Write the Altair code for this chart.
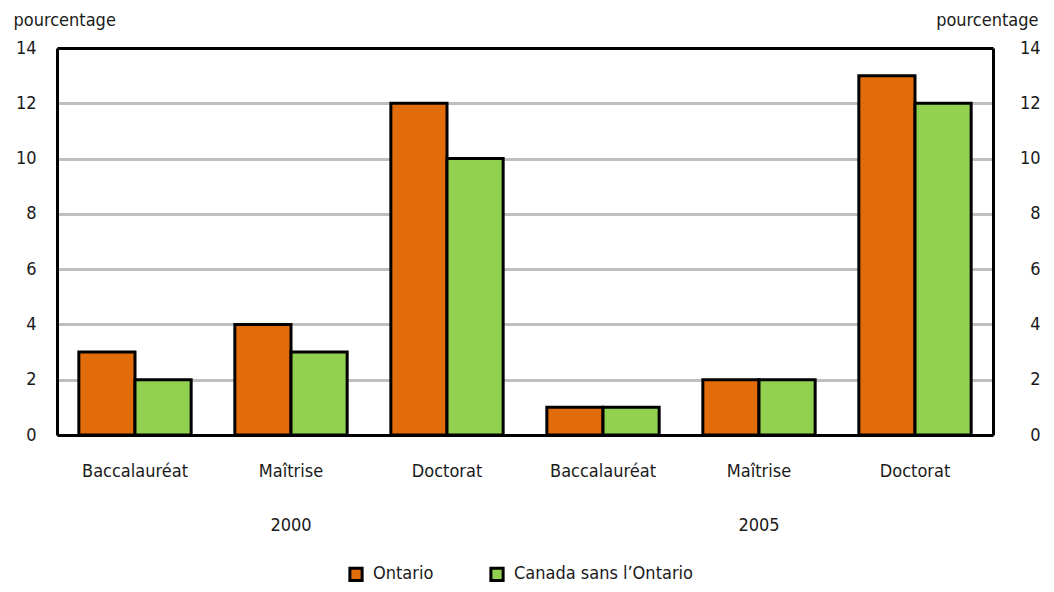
import altair as alt
import pandas as pd

years = ["2000", "2000", "2000", "2005", "2005", "2005"]
levels = ["Baccalauréat", "Maîtrise", "Doctorat", "Baccalauréat", "Maîtrise", "Doctorat"]
ontario = [3, 4, 12, 1, 2, 13]
canada = [2, 3, 10, 1, 2, 12]
series = ["Ontario", "Canada sans l’Ontario"]
colors = ["#E36C0A", "#92D050"]
year_labels = ["2000", "2005"]
year_mid_level = "Maîtrise"

keys = [f"{y}|{l}" for y, l in zip(years, levels)]
rows = []
for k, o, c in zip(keys, ontario, canada):
    rows.append({"key": k, "series": series[0], "value": o})
    rows.append({"key": k, "series": series[1], "value": c})
df = pd.DataFrame(rows)
ydf = pd.DataFrame({"key": [f"{y}|{year_mid_level}" for y in year_labels], "year": year_labels})

FONT = "Liberation Sans Narrow, Arial Narrow, DejaVu Sans Condensed, Roboto Condensed, sans-serif"
TXT = "#1a1a1a"

xenc = alt.X("key:N", sort=keys,
             scale=alt.Scale(paddingInner=0.28, paddingOuter=0.14),
             axis=alt.Axis(title=None, labelExpr="split(datum.label, '|')[1]",
                           labelAngle=0, ticks=False, labelPadding=27,
                           labelFontSize=18, labelFont=FONT, labelColor=TXT,
                           domainColor="black", domainWidth=3))
xoff = alt.XOffset("series:N", sort=series, scale=alt.Scale(paddingInner=0, paddingOuter=0))

bars = alt.Chart(df).mark_bar(stroke="black", strokeWidth=3).encode(
    x=xenc,
    xOffset=xoff,
    y=alt.Y("value:Q", scale=alt.Scale(domain=[0, 14]),
            axis=alt.Axis(values=list(range(0, 15, 2)), title="pourcentage", titleAngle=0,
                          titleAlign="left", titleX=-44, titleY=-28, titleBaseline="middle",
                          titleFont=FONT, titleFontSize=18, titleFontWeight="normal", titleColor=TXT,
                          labelFont=FONT, labelFontSize=18, labelColor=TXT, labelPadding=21,
                          ticks=False, grid=True,
                          gridColor=alt.condition("datum.value == 14", alt.value("black"), alt.value("#BFBFBF")),
                          gridWidth=3,
                          domainColor="black", domainWidth=3)),
    fill=alt.Fill("series:N", sort=series, scale=alt.Scale(domain=series, range=colors),
                  legend=alt.Legend(title=None, orient="none", direction="horizontal",
                                    legendX=290, legendY=517, symbolType="square",
                                    symbolSize=150, symbolStrokeColor="black", symbolStrokeWidth=3,
                                    labelFont=FONT, labelFontSize=18, labelColor=TXT,
                                    labelLimit=400, columnPadding=50, labelOffset=8)),
)

right = alt.Chart(df).mark_bar(opacity=0).encode(
    x=alt.X("key:N", sort=keys),
    xOffset=xoff,
    y=alt.Y("value:Q", scale=alt.Scale(domain=[0, 14]),
            axis=alt.Axis(orient="right", values=list(range(0, 15, 2)), title="pourcentage", titleAngle=0,
                          titleAlign="right", titleX=45, titleY=-28, titleBaseline="middle",
                          titleFont=FONT, titleFontSize=18, titleFontWeight="normal", titleColor=TXT,
                          labelFont=FONT, labelFontSize=18, labelColor=TXT, labelPadding=47,
                          labelAlign="right", ticks=False, grid=False,
                          domainColor="black", domainWidth=3)),
)

ytext = alt.Chart(ydf).mark_text(font=FONT, fontSize=18, color=TXT, baseline="middle").encode(
    x=alt.X("key:N", sort=keys),
    y=alt.value(478),
    text="year:N",
)

chart = alt.layer(bars, right, ytext).resolve_scale(y="independent").properties(
    width=936, height=387,
    autosize=alt.AutoSizeParams(type="none"),
    padding={"left": 49, "top": 40, "right": 53, "bottom": 149},
).configure_view(stroke="black", strokeWidth=3).configure(background="white")

chart.save("out.html", embed_options={"renderer": "svg", "actions": False})
